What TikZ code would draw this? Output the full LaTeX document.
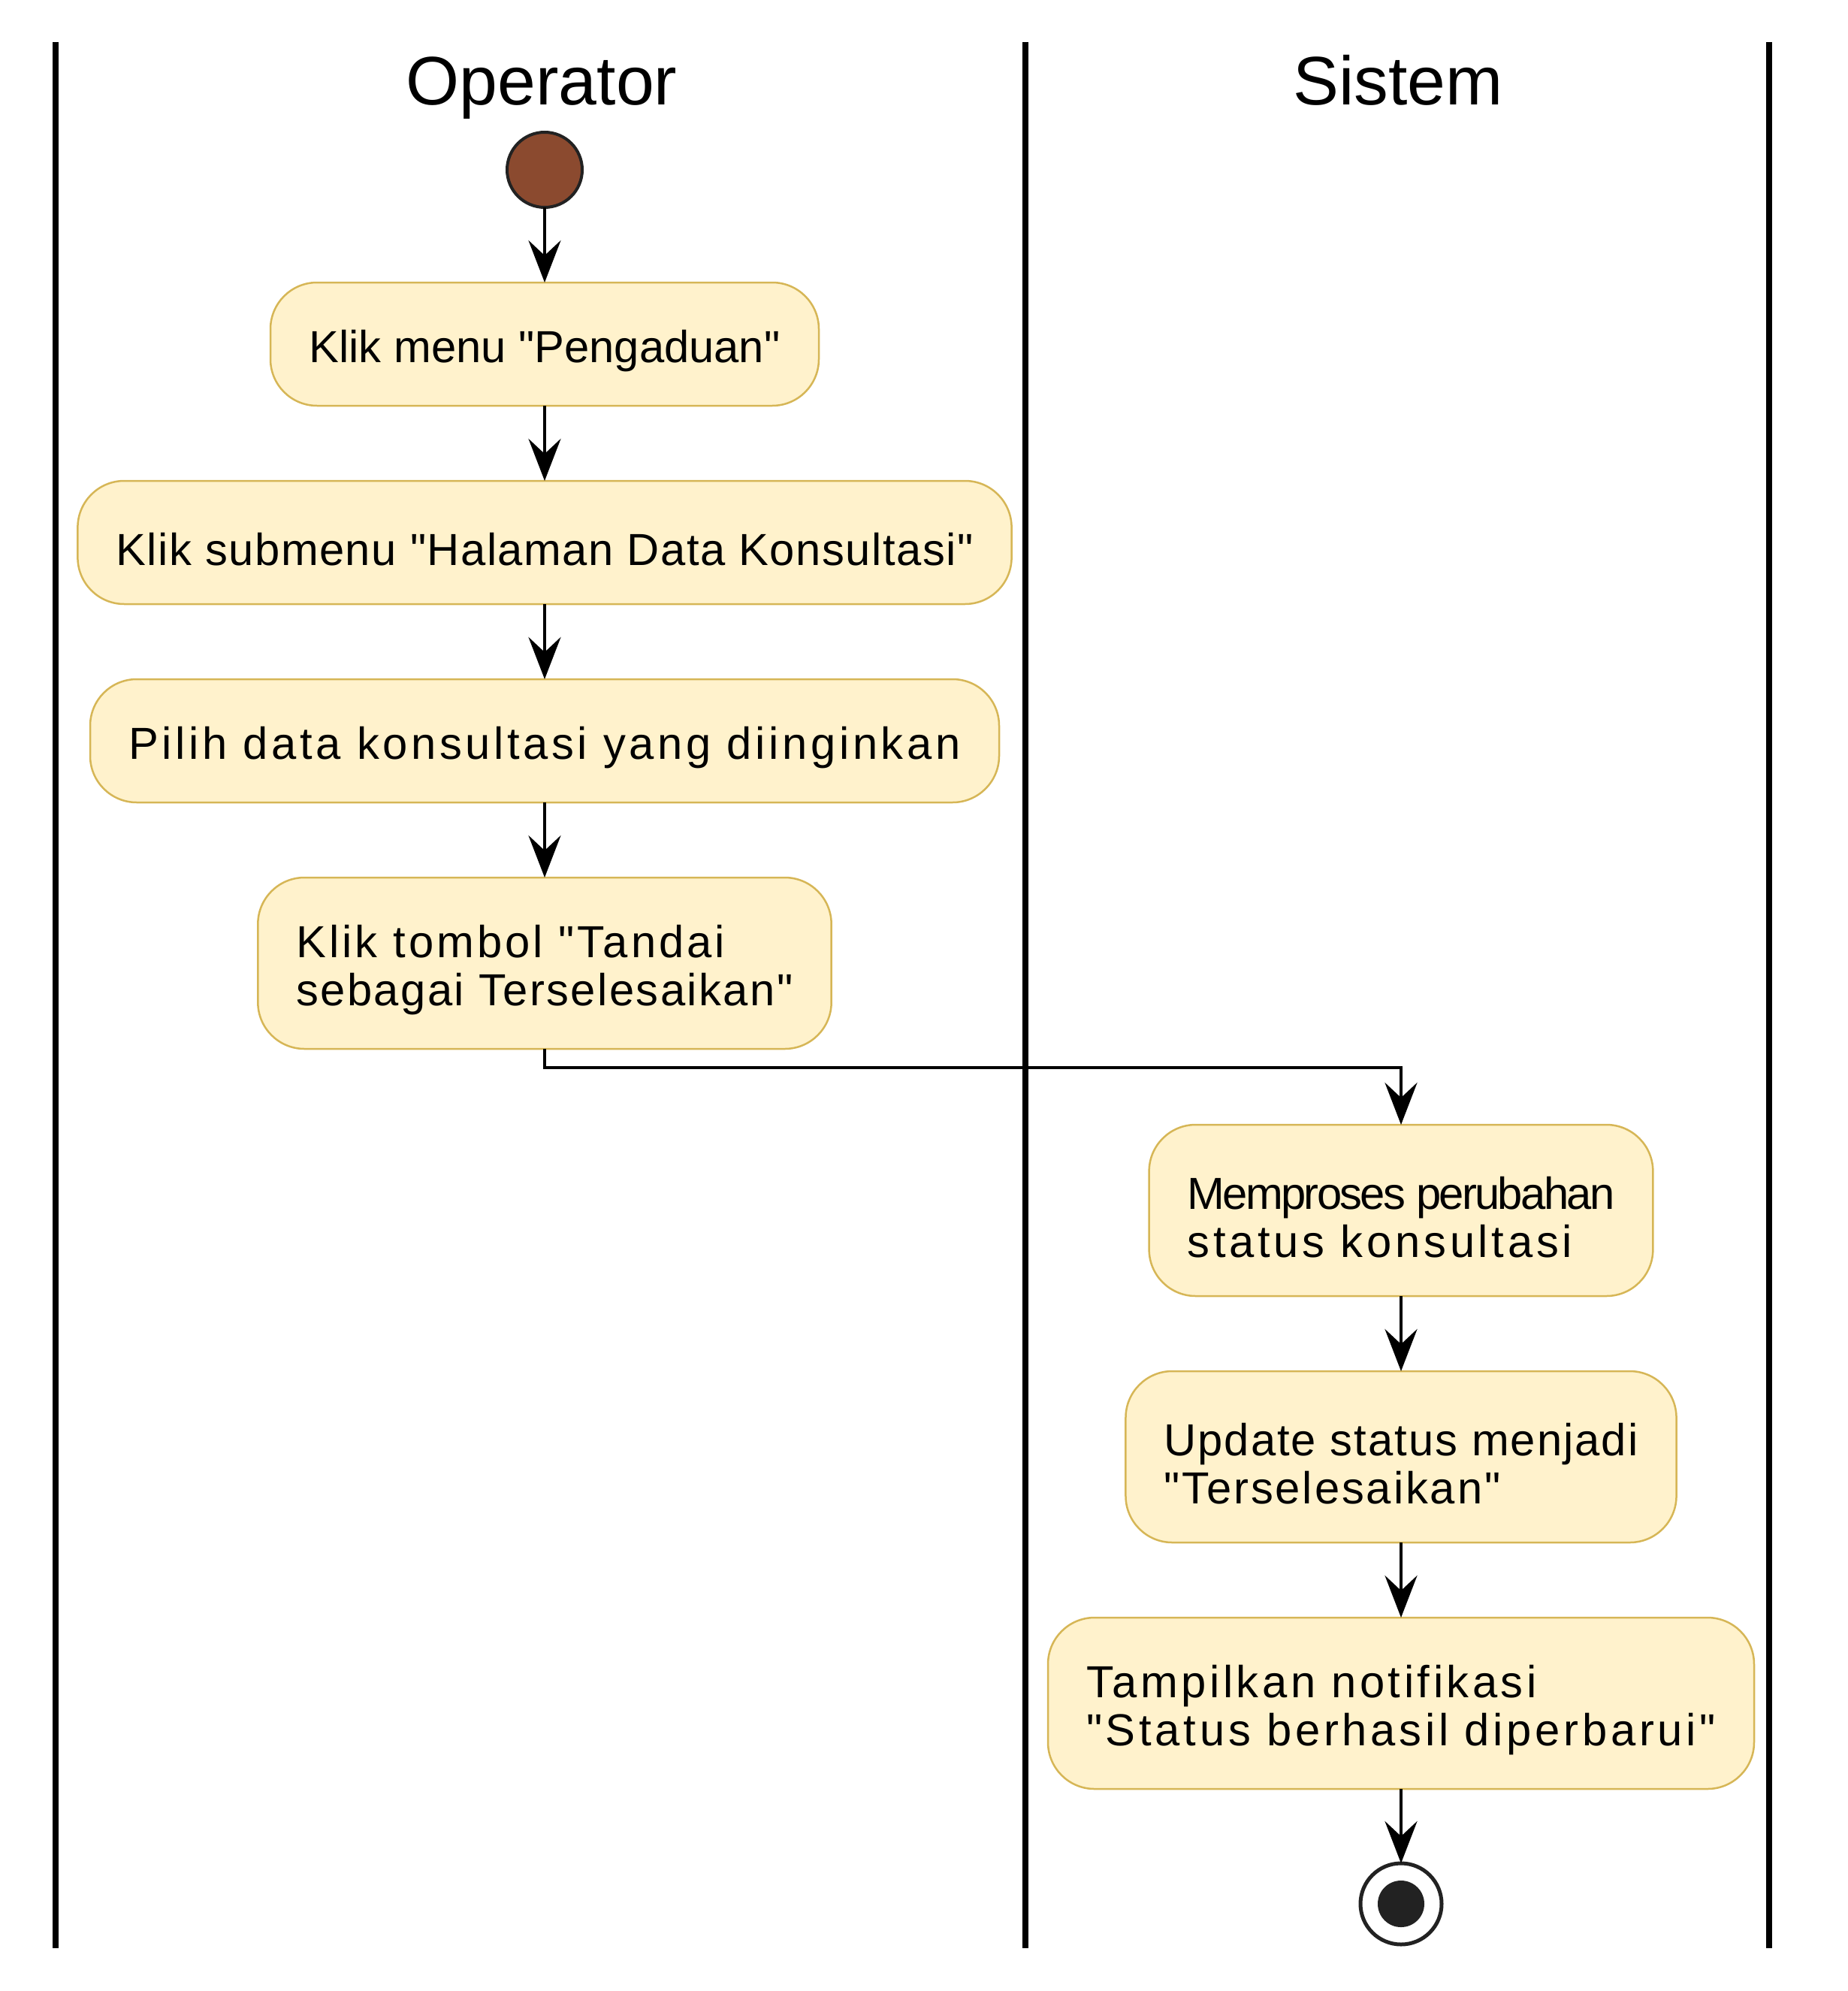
\documentclass[tikz,border=0pt]{standalone}
\usepackage{fontspec}
\setmainfont{Liberation Sans}[Ligatures=TeXOff]
\usetikzlibrary{positioning,arrows.meta}

\definecolor{actfill}{HTML}{FFF2CC}
\definecolor{actline}{HTML}{D6B656}
\definecolor{startfill}{HTML}{8B4A2F}
\definecolor{dot}{HTML}{222222}
\newcommand{\lift}{\rule{0pt}{6.1mm}}
\newcommand{\spaced}[2]{{\addfontfeature{LetterSpace=#1}#2}}

\begin{document}
\begin{tikzpicture}[>={Stealth[length=5.6mm,width=4.3mm,inset=2mm]},node distance=1cm,line width=0.045cm,
    act/.style={rectangle,rounded corners=0.62cm,draw=actline,fill=actfill,line width=0.025cm,outer sep=0pt,inner xsep=0.51cm,inner ysep=0pt,align=left,minimum height=1.64cm,font=\fontsize{17}{18.3}\selectfont},
    title/.style={font=\fontsize{26}{30}\selectfont,anchor=base},
    lane/.style={line width=0.08cm}]

            \useasboundingbox (0,0) rectangle (24.6,-26.5);

            \draw[lane] (0.74,-0.56) -- (0.74,-25.93);
            \draw[lane] (13.65,-0.56) -- (13.65,-25.93);
            \draw[lane] (23.55,-0.56) -- (23.55,-25.93);

            \node[title] (op) at (7.21,-1.40) {Operator};
            \node[title] (sys) at (18.61,-1.40) {Sistem};

            \node[circle, draw=dot, fill=startfill, line width=0.04cm, outer sep=0pt, minimum size=1cm, inner sep=0pt] (0) at (7.25,-2.26) {};
            \node[act, minimum width=7.30cm] (1) [below=of 0] {\lift Klik menu "Pengaduan"};
            \node[act, minimum width=12.41cm] (2) [below=of 1] {\lift\spaced{2.5}{Klik submenu "Halaman Data Konsultasi"}};
            \node[act, minimum width=12.10cm] (3) [below=of 2] {\lift\spaced{7.7}{Pilih data konsultasi yang diinginkan}};
            \node[act, minimum width=7.60cm, minimum height=2.28cm] (4) [below=of 3] {\lift\spaced{6.8}{Klik tombol "Tandai}\\\spaced{4.1}{sebagai Terselesaikan"}};

            \node[act, minimum width=6.70cm, minimum height=2.28cm] (5) at (18.65,-16.11) {\lift\spaced{-4.5}{Memproses perubahan}\\\spaced{7.9}{status konsultasi}};
            \node[act, minimum width=7.30cm, minimum height=2.28cm] (6) [below=of 5] {\lift\spaced{3.4}{Update status menjadi}\\\spaced{4.8}{"Terselesaikan"}};
            \node[act, minimum width=9.39cm, minimum height=2.28cm] (7) [below=of 6] {\lift\spaced{7.6}{Tampilkan notifikasi}\\\spaced{7.9}{"Status berhasil diperbarui"}};
            \node[circle, draw=dot, fill=white, line width=0.05cm, outer sep=0pt, minimum size=1.08cm, inner sep=0pt,
                path picture={\fill[dot] (path picture bounding box.center) circle (0.31cm);}] (8) [below=0.99cm of 7] {};

            \draw[->] (0) to (1);
            \draw[->] (1) to (2);
            \draw[->] (2) to (3);
            \draw[->] (3) to (4);
            \draw[->] (4.south) -- ++(0,-0.25) -| (5.north);
            \draw[->] (5) to (6);
            \draw[->] (6) to (7);
            \draw[->] (7) to (8);

        \end{tikzpicture}
\end{document}
